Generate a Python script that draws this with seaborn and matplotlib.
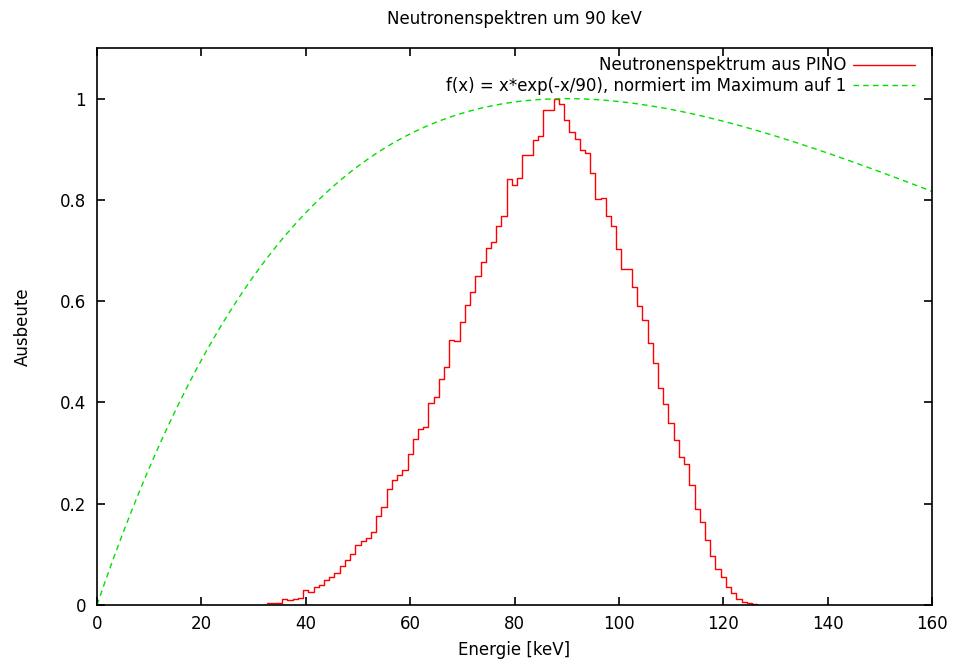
import numpy as np
import pandas as pd
import matplotlib
matplotlib.use("Agg")
import matplotlib.pyplot as plt
import seaborn as sns

# Neutronenspektrum aus PINO, 1-keV-Bins (Mitte des ersten Bins bei 33 keV)
ERSTER_BIN = 33
ausbeute = [
    0.003, 0.003, 0.003, 0.012, 0.010, 0.012, 0.014, 0.030, 0.026, 0.035,
    0.039, 0.049, 0.056, 0.064, 0.078, 0.089, 0.101, 0.118, 0.126, 0.132,
    0.144, 0.175, 0.194, 0.229, 0.246, 0.257, 0.267, 0.298, 0.327, 0.348,
    0.352, 0.398, 0.411, 0.446, 0.470, 0.524, 0.522, 0.559, 0.592, 0.619,
    0.649, 0.677, 0.706, 0.717, 0.748, 0.768, 0.841, 0.829, 0.843, 0.888,
    0.888, 0.918, 0.927, 0.978, 0.978, 1.000, 0.989, 0.958, 0.935, 0.920,
    0.899, 0.893, 0.854, 0.802, 0.804, 0.768, 0.749, 0.704, 0.663, 0.663,
    0.628, 0.590, 0.563, 0.517, 0.478, 0.428, 0.396, 0.359, 0.325, 0.293,
    0.279, 0.237, 0.190, 0.163, 0.128, 0.096, 0.071, 0.056, 0.035, 0.023,
    0.012, 0.006, 0.004, 0.002,
]
energie = np.arange(ERSTER_BIN, ERSTER_BIN + len(ausbeute))
# Bin-Kanten als Liste (seaborn vergleicht bins mit "auto")
kanten = list(np.arange(ERSTER_BIN - 0.5, ERSTER_BIN + len(ausbeute), 1.0))
spektrum = pd.DataFrame({"energie": energie, "ausbeute": ausbeute})

# Vergleichsfunktion aus der Legende: f(x) = x*exp(-x/90), im Maximum auf 1 normiert
TAU = 90.0
x_fkt = np.linspace(0, 160, 400)
y_fkt = x_fkt * np.exp(-x_fkt / TAU) / (TAU * np.exp(-1))

x_ticks = [0, 20, 40, 60, 80, 100, 120, 140, 160]
y_ticks = [0, 0.2, 0.4, 0.6, 0.8, 1]

sns.set_style("ticks")
plt.rcParams["font.family"] = ["DejaVu Sans"]
plt.rcParams["text.color"] = "black"
plt.rcParams["axes.labelcolor"] = "black"
FS = 12

fig = plt.figure(figsize=(9.55, 6.66), dpi=100)
ax = fig.add_axes([97 / 955, 1 - 605 / 666, 835 / 955, 557 / 666])

sns.histplot(data=spektrum, x="energie", weights="ausbeute", bins=kanten,
             element="step", fill=False, color="#ff0000", linewidth=1.0, ax=ax,
             label="Neutronenspektrum aus PINO")
sns.lineplot(x=x_fkt, y=y_fkt, color="#00e000", linewidth=1.0, linestyle=(0, (4, 3)),
             ax=ax, label="f(x) = x*exp(-x/90), normiert im Maximum auf 1")

ax.set_xlim(0, 160)
ax.set_ylim(0, 1.1)
ax.set_xticks(x_ticks)
ax.set_yticks(y_ticks)
ax.set_xticklabels([f"{v:g}" for v in x_ticks])
ax.set_yticklabels([f"{v:g}" for v in y_ticks])
ax.tick_params(direction="in", top=True, right=True, length=6, width=1.2,
               labelsize=FS, colors="black")
ax.tick_params(axis="y", pad=8)
ax.tick_params(axis="x", pad=7)
for s in ax.spines.values():
    s.set_visible(True)
    s.set_color("black")
    s.set_linewidth(1.2)

ax.set_title("Neutronenspektren um 90 keV", fontsize=FS, pad=17, color="black")
ax.set_xlabel("Energie [keV]", fontsize=FS, labelpad=6, color="black")
ax.set_ylabel("Ausbeute", fontsize=FS, labelpad=20, color="black")

leg = ax.legend(loc="upper right", bbox_to_anchor=(0.9796, 0.985), frameon=False,
                markerfirst=False, fontsize=FS, handlelength=3.7, handletextpad=0.4,
                labelspacing=0.16, borderpad=0, borderaxespad=0)
for t in leg.get_texts():
    t.set_color("black")

fig.savefig("out.png", dpi=100)
